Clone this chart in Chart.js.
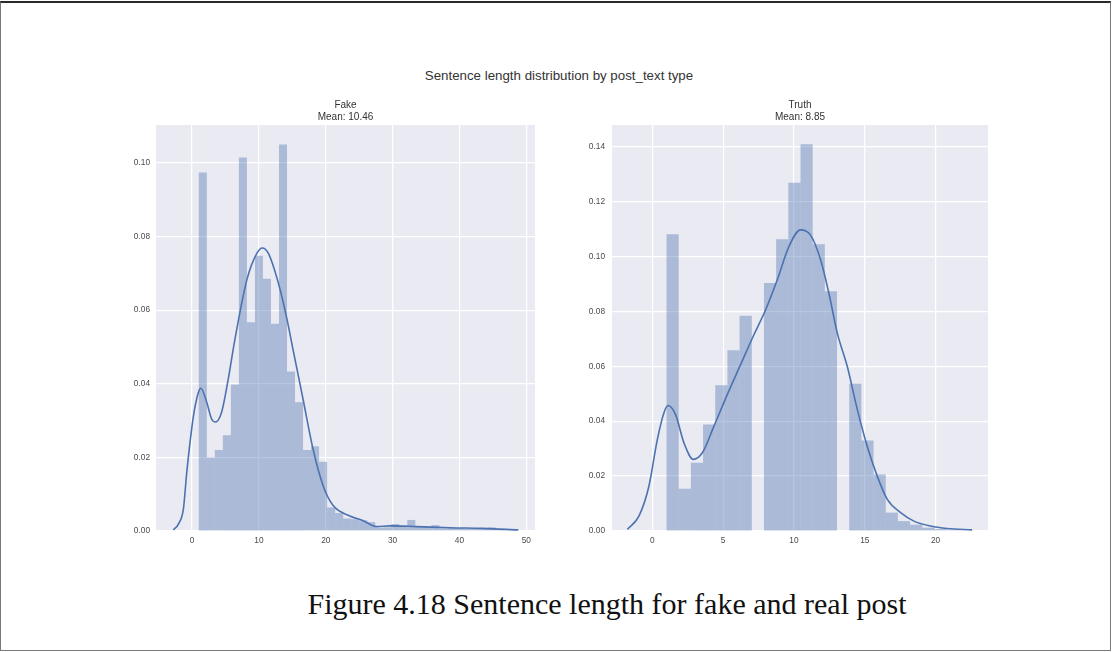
<!DOCTYPE html>
<html>
<head>
<meta charset="utf-8">
<script src="https://cdn.jsdelivr.net/npm/chart.js@4/dist/chart.umd.min.js"></script>
<style>
  html, body { margin: 0; padding: 0; background: #fff; }
  body { width: 1112px; height: 652px; position: relative; overflow: hidden; }
  #frame { position: absolute; left: 0; top: 1px; width: 1111px; height: 650px; box-sizing: border-box;
           border: 1px solid #7a7a7a; border-top: 2px solid #2a2a2a; }
  #suptitle { position: absolute; left: 0; width: 1118px; top: 68px; text-align: center;
              font: 13.3px "Liberation Sans", Arial, sans-serif; color: #333; }
  #caption { position: absolute; left: 0; width: 1214px; top: 587px; text-align: center;
             font: 30px "Liberation Serif", "Times New Roman", serif; color: #111; line-height: 34px; }
  canvas { position: absolute; }
  #fakeChart { left: 96px; top: 99px; }
  #truthChart { left: 552px; top: 99px; }
</style>
</head>
<body>
<div id="frame"></div>
<div id="suptitle">Sentence length distribution by post_text type</div>
<canvas id="fakeChart" width="444" height="449"></canvas>
<canvas id="truthChart" width="444" height="449"></canvas>
<div id="caption">Figure 4.18 Sentence length for fake and real post</div>
<script>
// ---- Fake posts: histogram (density) ----
const fakeBinEdges = [1.0, 2.2, 3.4, 4.6, 5.8, 7.0, 8.2, 9.4, 10.6, 11.8, 13.0, 14.2, 15.4, 16.6, 17.8,
  19.0, 20.2, 21.4, 22.6, 23.8, 25.0, 26.2, 27.4, 28.6, 29.8, 31.0, 32.2, 33.4, 34.6, 35.8, 37.0,
  38.2, 39.4, 40.6, 41.8, 43.0, 44.2, 45.4, 46.6, 47.8, 49.0];
const fakeDensity = [0.0974, 0.0200, 0.0220, 0.0260, 0.0398, 0.1015, 0.0567, 0.0748, 0.0685, 0.0563,
  0.1050, 0.0433, 0.0350, 0.0220, 0.0230, 0.0188, 0.0064, 0.0049, 0.0034, 0.0032, 0.0029, 0.0024,
  0.0009, 0.0010, 0.0019, 0.0012, 0.0030, 0.0012, 0.0011, 0.0016, 0.0007, 0.0008, 0.0008, 0.0006,
  0.0006, 0.0008, 0.0010, 0.0004, 0.0002, 0.0002];
// ---- Fake posts: kernel density estimate ----
const fakeKdeX = [-2.8, -2.0, -1.3, -0.8, 0.2, 0.94, 1.3, 2.2, 2.9, 3.5, 4.4, 5.4, 6.4, 8.2, 9.7, 10.5,
  11.4, 12.9, 14.2, 15.1, 16.6, 18.1, 19.6, 21.1, 23.6, 25.6, 27.6, 29.6, 33.6, 38.6, 43.5, 48.8];
const fakeKdeY = [0.0003, 0.0020, 0.0060, 0.0159, 0.0312, 0.0376, 0.0388, 0.0349, 0.0305, 0.0296, 0.0322,
  0.0412, 0.0520, 0.0683, 0.0755, 0.0769, 0.0755, 0.0674, 0.0575, 0.0493, 0.0358, 0.0222, 0.0123,
  0.0069, 0.0041, 0.0028, 0.0012, 0.0014, 0.0012, 0.0009, 0.0007, 0.0003];
const fakeXTicks = [0, 10, 20, 30, 40, 50];
const fakeYTicks = [0.00, 0.02, 0.04, 0.06, 0.08, 0.10];
const fakeTitle = ["Fake", "Mean: 10.46"];

// ---- Truthful posts: histogram (density) ----
const truthBinEdges = [1.0, 1.86, 2.72, 3.58, 4.44, 5.3, 6.16, 7.02, 7.88, 8.74, 9.6, 10.46, 11.32,
  12.18, 13.04, 13.9, 14.76, 15.62, 16.48, 17.34, 18.2, 19.06, 19.92, 20.78, 21.64];
const truthDensity = [0.1081, 0.0154, 0.0249, 0.0388, 0.0531, 0.0658, 0.0784, 0.0, 0.0903, 0.1063,
  0.1269, 0.1409, 0.1045, 0.0873, 0.0, 0.0536, 0.0330, 0.0206, 0.0067, 0.0036, 0.0023, 0.0012,
  0.0007, 0.0004];
// ---- Truthful posts: kernel density estimate ----
const truthKdeX = [-1.76, -0.94, -0.24, 0.35, 0.82, 1.1, 1.64, 2.23, 2.89, 3.53, 4.35, 5.29, 6.23, 7.17,
  8.0, 8.82, 9.64, 10.46, 11.17, 11.88, 12.46, 13.06, 13.76, 14.47, 15.17, 15.88, 16.59, 17.53,
  18.47, 19.64, 20.82, 22.58];
const truthKdeY = [0.0006, 0.0055, 0.0164, 0.0333, 0.0431, 0.0457, 0.0424, 0.0321, 0.0261, 0.0285,
  0.0382, 0.0497, 0.0606, 0.0715, 0.0806, 0.0915, 0.1036, 0.1097, 0.1078, 0.0988, 0.0867, 0.0721,
  0.0600, 0.0443, 0.0309, 0.0200, 0.0115, 0.0067, 0.0036, 0.0018, 0.0009, 0.0004];
const truthXTicks = [0, 5, 10, 15, 20];
const truthYTicks = [0.00, 0.02, 0.04, 0.06, 0.08, 0.10, 0.12, 0.14];
const truthTitle = ["Truth", "Mean: 8.85"];

const FONT = '"Liberation Sans", Arial, sans-serif';
const BAR_FILL = 'rgba(76, 114, 176, 0.4)';
const LINE_COLOR = '#4C72B0';

// paints the seaborn-style grey plotting area
const plotBackground = {
  id: 'plotBackground',
  beforeDraw(chart) {
    const { ctx, chartArea: a } = chart;
    ctx.save();
    ctx.fillStyle = '#EAEAF2';
    ctx.fillRect(a.left, a.top, a.right - a.left, a.bottom - a.top);
    ctx.restore();
  }
};

function histBars(edges, dens) {
  return dens.map((d, i) => ({ x: (edges[i] + edges[i + 1]) / 2, y: d }));
}
function kdePoints(xs, ys) {
  return xs.map((x, i) => ({ x: x, y: ys[i] }));
}

function makePanel(id, cfg) {
  return new Chart(document.getElementById(id), {
    type: 'bar',
    data: {
      datasets: [
        {
          type: 'line',
          data: kdePoints(cfg.kdeX, cfg.kdeY),
          borderColor: LINE_COLOR,
          borderWidth: 1.6,
          pointRadius: 0,
          cubicInterpolationMode: 'monotone',
          fill: false,
          order: 0
        },
        {
          type: 'bar',
          data: histBars(cfg.edges, cfg.dens),
          backgroundColor: BAR_FILL,
          borderWidth: 0,
          inflateAmount: 0,
          barPercentage: 1.0,
          categoryPercentage: 1.0,
          order: 1
        }
      ]
    },
    options: {
      responsive: false,
      animation: false,
      devicePixelRatio: 1,
      layout: { padding: { left: 0, right: cfg.padRight, top: 0, bottom: 0 } },
      plugins: {
        legend: { display: false },
        tooltip: { enabled: false },
        title: {
          display: true,
          text: cfg.title,
          fullSize: false,
          color: '#333',
          font: { family: FONT, size: 10, weight: 'normal', lineHeight: 1.2 },
          padding: { top: 0, bottom: 2 }
        }
      },
      scales: {
        x: {
          type: 'linear',
          min: cfg.xMin,
          max: cfg.xMax,
          offset: false,
          afterBuildTicks: s => { s.ticks = cfg.xTicks.map(v => ({ value: v })); },
          afterFit: s => { s.height = 17; },
          grid: { color: '#FFFFFF', lineWidth: 1.2, drawTicks: false, offset: false },
          border: { display: false },
          ticks: { color: '#4a4a4a', font: { family: FONT, size: 8.3 }, padding: 5,
                   maxRotation: 0, callback: v => String(v) }
        },
        y: {
          type: 'linear',
          min: 0,
          max: cfg.yMax,
          afterBuildTicks: s => { s.ticks = cfg.yTicks.map(v => ({ value: v })); },
          afterFit: s => { s.width = 60; },
          grid: { color: '#FFFFFF', lineWidth: 1.2, drawTicks: false },
          border: { display: false },
          ticks: { color: '#4a4a4a', font: { family: FONT, size: 8.3 }, padding: cfg.yPad,
                   callback: v => Number(v).toFixed(2) }
        }
      }
    },
    plugins: [plotBackground]
  });
}

makePanel('fakeChart', {
  edges: fakeBinEdges, dens: fakeDensity, kdeX: fakeKdeX, kdeY: fakeKdeY,
  xTicks: fakeXTicks, yTicks: fakeYTicks, title: fakeTitle,
  xMin: -5.4, xMax: 51.3, yMax: 0.1103, padRight: 5, yPad: 6
});
makePanel('truthChart', {
  edges: truthBinEdges, dens: truthDensity, kdeX: truthKdeX, kdeY: truthKdeY,
  xTicks: truthXTicks, yTicks: truthYTicks, title: truthTitle,
  xMin: -2.85, xMax: 23.7, yMax: 0.1479, padRight: 8, yPad: 7
});
</script>
</body>
</html>
